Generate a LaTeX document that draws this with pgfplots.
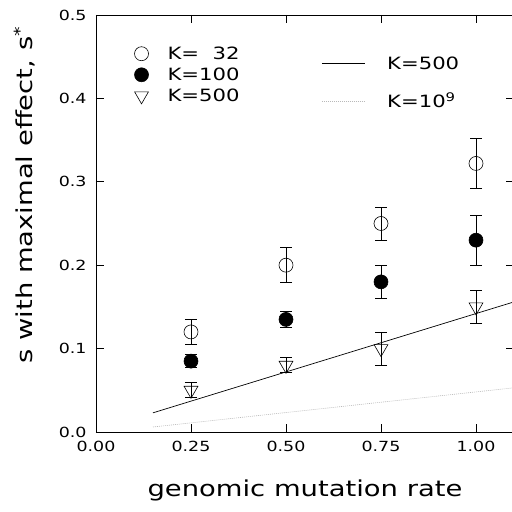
\documentclass[border=0pt]{standalone}
\usepackage{fontspec}
\setmainfont{DejaVu Sans}[FakeStretch=1.25]
\usepackage{pgfplots}
\pgfplotsset{compat=1.18}
\usetikzlibrary{calc}
\begin{document}
\begin{tikzpicture}
\begin{axis}[
  name=main,
  scale only axis,
  width=418bp, height=417bp,
  xmin=0, xmax=1.1, ymin=0, ymax=0.5,
  axis line style={line width=0.8pt},
  tick style={line width=0.6pt, black},
  major tick length=8bp,
  tick align=inside,
  xtick={0,0.25,0.5,0.75,1},
  xticklabels={0.00,0.25,0.50,0.75,1.00},
  ytick={0,0.1,0.2,0.3,0.4,0.5},
  yticklabels={0.0,0.1,0.2,0.3,0.4,0.5},
  /pgf/number format/assume math mode=true,
  tick label style={font=\fontsize{14}{16}\selectfont},
  xticklabel style={yshift=-6bp},
  yticklabel style={xshift=-6bp},
  xlabel={genomic mutation rate},
  ylabel={s with maximal effect, s\textsuperscript{*}},
  label style={font=\fontsize{22}{26}\selectfont},
  xlabel style={at={(axis description cs:0.5,0)}, anchor=base, yshift=-65bp},
  ylabel style={at={(axis description cs:0,0.568)}, anchor=base, yshift=63bp},
  legend style={at={(axis cs:0.093,0.467)}, anchor=north west, draw=none, fill=none,
    font=\fontsize{17}{19}\selectfont, row sep=3bp, nodes={inner sep=2pt}},
  legend cell align=left,
  error bars/error bar style={line width=0.6pt, black},
  error bars/error mark options={line width=0.6pt, black, mark size=6bp, rotate=90},
]
% K=500 theory line
\addplot[black, line width=0.7pt, forget plot] coordinates {(0.15,0.023) (1.1,0.156)};
% K=1e9 theory line
\addplot[gray!55, line width=0.6pt, dash pattern=on 1pt off 1pt, forget plot] coordinates {(0.15,0.006) (1.1,0.053)};

\addplot[only marks, mark=o, mark size=7bp, mark options={fill=white, line width=0.6pt},
  error bars/.cd, y dir=both, y explicit]
  coordinates {(0.25,0.12) +- (0,0.015) (0.5,0.20) +- (0,0.021) (0.75,0.25) +- (0,0.02) (1.0,0.322) +- (0,0.03)};
\addlegendentry{\hspace{17bp}K=\phantom{1}32}
\addplot[only marks, mark=*, mark size=7bp, mark options={fill=black, line width=0.6pt},
  error bars/.cd, y dir=both, y explicit]
  coordinates {(0.25,0.085) +- (0,0.008) (0.5,0.135) +- (0,0.01) (0.75,0.18) +- (0,0.02) (1.0,0.23) +- (0,0.03)};
\addlegendentry{\hspace{17bp}K=100}
\addplot[only marks, mark=triangle, mark size=8bp, mark options={rotate=180, fill=white, line width=0.6pt},
  error bars/.cd, y dir=both, y explicit]
  coordinates {(0.25,0.05) +- (0,0.009) (0.5,0.08) +- (0,0.009) (0.75,0.10) +- (0,0.02) (1.0,0.15) +- (0,0.02)};
\addlegendentry{\hspace{17bp}K=500}
\end{axis}
\begin{axis}[
  scale only axis,
  width=418bp, height=417bp,
  xmin=0, xmax=1.1, ymin=0, ymax=0.5,
  hide axis,
  legend style={at={(axis cs:0.585,0.455)}, anchor=north west, draw=none, fill=none,
    font=\fontsize{17}{19}\selectfont, row sep=18bp, nodes={inner sep=2pt}},
  legend cell align=left,
  legend image code/.code={\draw[#1] (0bp,0bp) -- (43bp,0bp);},
]
\addlegendimage{black, line width=0.7pt}
\addlegendentry{\hspace{20bp}K=500}
\addlegendimage{gray!55, line width=0.6pt, dash pattern=on 1pt off 1pt}
\addlegendentry{\hspace{20bp}K=10\textsuperscript{9}}
\end{axis}
\pgfresetboundingbox
\useasboundingbox ($(main.south west)+(-96bp,-80bp)$) rectangle ($(main.north east)+(-2bp,15bp)$);
\end{tikzpicture}
\end{document}
